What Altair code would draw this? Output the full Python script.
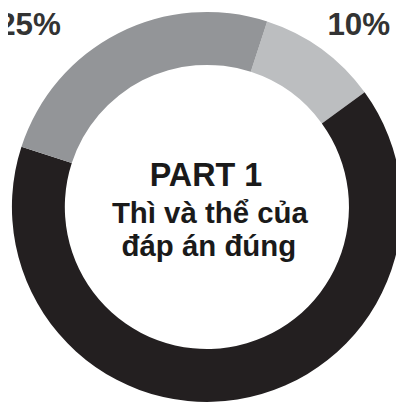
import math
import altair as alt
import pandas as pd

# --- data ---
segments = ["Nhóm A", "Nhóm B", "Nhóm C"]
shares = [10, 65, 25]
colors = ["#bcbec0", "#231f20", "#939598"]
pct_labels = ["25%", "10%"]
center_lines = ["PART 1", "Thì và thể của", "đáp án đúng"]

df = pd.DataFrame({"segment": segments, "share": shares, "order": list(range(len(segments)))})

start = math.radians(18)

ring = alt.Chart(df).mark_arc(innerRadius=145, outerRadius=199, stroke=None).encode(
    theta=alt.Theta("share:Q", stack=True, scale=alt.Scale(range=[start, start + 2 * math.pi])),
    order=alt.Order("order:Q"),
    color=alt.Color("segment:N", scale=alt.Scale(domain=segments, range=colors), legend=None),
    x=alt.value(203),
    y=alt.value(199),
)

FONT = "Liberation Sans"

def text_layer(txt, x, y, size, align, color, weight="bold"):
    return alt.Chart(pd.DataFrame({"t": [txt]})).mark_text(
        font=FONT, fontSize=size, fontWeight=weight, align=align,
        baseline="alphabetic", color=color,
    ).encode(text="t:N", x=alt.value(x), y=alt.value(y))

layers = [ring]
layers.append(text_layer(pct_labels[0], 54, 24, 32, "right", "#333333"))
layers.append(text_layer(pct_labels[1], 326, 24, 32, "left", "#333333"))
layers.append(text_layer(center_lines[0], 202, 178, 33, "center", "#1a1a1a"))
layers.append(text_layer(center_lines[1], 206, 215, 30, "center", "#1a1a1a"))
layers.append(text_layer(center_lines[2], 205, 249, 30, "center", "#1a1a1a"))

chart = alt.layer(*layers).properties(
    width=396, height=394,
    autosize=alt.AutoSizeParams(type="none"),
    padding=0,
    background="white",
).configure_view(stroke=None)

chart.save("out.html", embed_options={"renderer": "svg", "actions": False})
